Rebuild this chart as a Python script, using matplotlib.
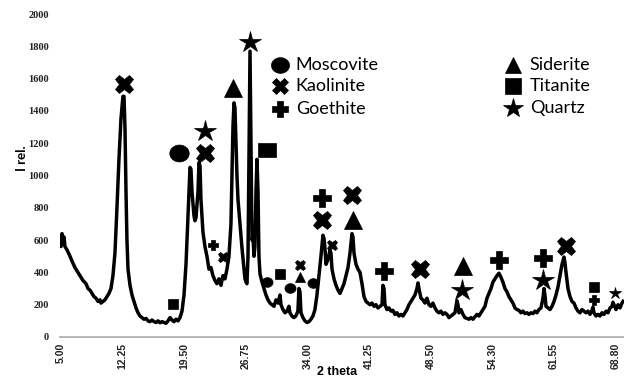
import matplotlib
matplotlib.use("Agg")
import matplotlib.pyplot as plt
import numpy as np

# ---------------- data ----------------
two_theta = [4.89, 5.00, 5.12, 5.23, 5.35, 5.46, 5.69, 6.04, 6.27, 6.61, 6.96, 7.19, 7.53, 7.88, 8.11, 8.34,
             8.57, 8.80, 9.03, 9.26, 9.49, 9.60, 9.83, 10.06, 10.29, 10.52, 10.75, 10.98, 11.21, 11.44, 11.67,
             11.90, 12.13, 12.25, 12.36, 12.48, 12.59, 12.71, 12.94, 13.17, 13.40, 13.63, 13.86, 14.09, 14.32,
             14.55, 14.78, 15.01, 15.24, 15.47, 15.70, 15.93, 16.16, 16.39, 16.62, 16.85, 17.08, 17.31, 17.54,
             17.77, 18.00, 18.23, 18.46, 18.69, 18.92, 19.15, 19.38, 19.61, 19.84, 19.95, 20.07, 20.30, 20.41,
             20.53, 20.76, 20.87, 20.99, 21.10, 21.33, 21.56, 21.79, 22.02, 22.25, 22.48, 22.71, 22.94, 23.17,
             23.40, 23.63, 23.86, 24.09, 24.32, 24.55, 24.67, 24.78, 24.90, 25.01, 25.13, 25.24, 25.36, 25.59,
             25.82, 26.05, 26.16, 26.28, 26.39, 26.51, 26.62, 26.74, 26.85, 26.97, 27.08, 27.20, 27.31, 27.43,
             27.54, 27.66, 27.77, 27.89, 28.12, 28.35, 28.58, 28.81, 29.04, 29.27, 29.50, 29.73, 29.96, 30.19,
             30.30, 30.53, 30.76, 30.99, 31.22, 31.33, 31.56, 31.79, 32.02, 32.25, 32.37, 32.49, 32.60, 32.83,
             33.06, 33.29, 33.52, 33.75, 33.98, 34.21, 34.44, 34.67, 34.90, 35.13, 35.25, 35.36, 35.48, 35.71,
             35.94, 36.05, 36.17, 36.40, 36.63, 36.86, 37.09, 37.32, 37.55, 37.78, 38.01, 38.24, 38.47, 38.58,
             38.70, 38.93, 39.16, 39.39, 39.62, 39.85, 40.08, 40.31, 40.54, 40.77, 41.00, 41.23, 41.46, 41.69,
             41.92, 42.03, 42.15, 42.26, 42.49, 42.72, 42.95, 43.18, 43.41, 43.64, 43.87, 44.10, 44.33, 44.56,
             44.79, 45.02, 45.25, 45.48, 45.71, 45.94, 46.06, 46.17, 46.40, 46.63, 46.86, 47.09, 47.32, 47.55,
             47.78, 48.01, 48.24, 48.47, 48.70, 48.93, 49.16, 49.39, 49.62, 49.85, 50.08, 50.31, 50.54, 50.66,
             50.77, 51.00, 51.23, 51.46, 51.69, 51.92, 52.15, 52.38, 52.61, 52.84, 53.07, 53.30, 53.53, 53.76,
             53.99, 54.22, 54.45, 54.68, 54.91, 55.14, 55.37, 55.60, 55.83, 56.06, 56.29, 56.52, 56.75, 56.98,
             57.21, 57.44, 57.67, 57.90, 58.13, 58.36, 58.59, 58.82, 59.05, 59.28, 59.51, 59.74, 59.97, 60.20,
             60.43, 60.55, 60.66, 60.78, 61.01, 61.24, 61.47, 61.70, 61.93, 62.16, 62.39, 62.62, 62.85, 62.96,
             63.08, 63.31, 63.54, 63.77, 64.00, 64.23, 64.46, 64.69, 64.92, 65.15, 65.38, 65.61, 65.84, 66.07,
             66.18, 66.30, 66.53, 66.76, 66.99, 67.22, 67.45, 67.68, 67.91, 68.14, 68.37, 68.48, 68.60, 68.83,
             69.06, 69.29, 69.52, 69.75]

intensity = [600, 560, 640, 580, 620, 560, 540, 500, 470, 430, 400, 380, 350, 330, 300, 290,
             270, 250, 240, 220, 230, 210, 220, 230, 250, 270, 300, 380, 520, 800, 1100,
             1350, 1490, 1490, 1300, 900, 600, 420, 320, 260, 220, 180, 150, 130, 120,
             110, 115, 100, 95, 105, 95, 90, 100, 88, 95, 90, 85, 100, 120,
             105, 95, 110, 100, 120, 160, 260, 450, 750, 1050, 1040, 900, 750, 720,
             740, 900, 1080, 1060, 850, 650, 560, 500, 420, 430, 380, 350, 330, 360,
             320, 380, 360, 420, 500, 700, 1000, 1300, 1450, 1420, 1200, 1000, 850, 700,
             550, 420, 360, 340, 330, 500, 1100, 1770, 1200, 600, 620, 500, 560, 900,
             1100, 900, 500, 390, 340, 300, 260, 230, 210, 200, 190, 230, 210, 260,
             200, 170, 150, 160, 190, 150, 130, 120, 130, 160, 300, 280, 150, 120,
             100, 90, 95, 110, 130, 170, 260, 380, 500, 630, 610, 550, 450, 480,
             540, 520, 420, 360, 320, 290, 270, 300, 330, 380, 430, 520, 640, 620,
             520, 450, 420, 400, 330, 250, 220, 210, 200, 210, 190, 200, 180, 190,
             200, 320, 300, 200, 170, 180, 160, 165, 140, 150, 130, 140, 130, 150,
             170, 200, 220, 240, 260, 300, 335, 300, 240, 230, 210, 240, 200, 190,
             210, 180, 160, 150, 160, 140, 150, 140, 120, 130, 140, 150, 225, 200,
             150, 170, 140, 120, 115, 110, 120, 110, 125, 140, 130, 150, 170, 190,
             240, 270, 300, 340, 360, 380, 395, 370, 340, 300, 280, 250, 230, 210,
             180, 170, 165, 150, 160, 145, 150, 140, 150, 145, 160, 150, 170, 180,
             240, 300, 260, 190, 180, 170, 190, 220, 260, 310, 380, 450, 495, 460,
             400, 300, 250, 220, 210, 180, 160, 150, 170, 160, 150, 160, 140, 165,
             185, 150, 130, 140, 130, 150, 140, 160, 150, 180, 190, 215, 200, 170,
             200, 180, 210, 230]

tick_labels = ["5.00", "12.25", "19.50", "26.75", "34.00", "41.25", "48.50", "54.30", "61.55", "68.80"]
y_ticks = [0, 200, 400, 600, 800, 1000, 1200, 1400, 1600, 1800, 2000]

# phase annotations: mineral, 2theta, intensity position, big (True) / small (False)
ann_mineral = ["Kaolinite", "Moscovite", "Kaolinite", "Quartz", "Siderite", "Quartz", "Titanite",
               "Goethite", "Kaolinite", "Kaolinite", "Siderite", "Goethite", "Kaolinite", "Siderite",
               "Quartz", "Goethite", "Goethite", "Quartz", "Kaolinite",
               "Goethite", "Kaolinite", "Titanite", "Moscovite", "Titanite", "Moscovite", "Kaolinite",
               "Siderite", "Moscovite", "Kaolinite", "Titanite", "Goethite", "Quartz"]
ann_theta = [12.25, 18.57, 21.56, 21.56, 24.78, 26.74, 28.69,
             35.01, 35.01, 38.47, 38.58, 42.15, 46.29, 51.23,
             51.12, 55.37, 60.43, 60.43, 63.08,
             22.48, 23.63, 17.88, 28.69, 30.19, 31.33, 32.49,
             32.49, 33.98, 36.17, 66.30, 66.30, 68.71]
ann_value = [1566, 1139, 1139, 1275, 1541, 1826, 1158,
             860, 724, 879, 724, 409, 421, 439,
             291, 477, 489, 353, 563,
             569, 495, 204, 340, 390, 303, 446,
             371, 334, 569, 310, 229, 272]
ann_big = [True] * 19 + [False] * 13

legend_left = ["Moscovite", "Kaolinite", "Goethite"]
legend_right = ["Siderite", "Titanite", "Quartz"]

# ---------------- styles ----------------
rect = [(-1.35, -1.0), (1.35, -1.0), (1.35, 1.0), (-1.35, 1.0), (-1.35, -1.0)]
_a = np.linspace(0, 2 * np.pi, 40)
ellipse = list(zip(1.15 * np.cos(_a), np.sin(_a)))
h = 0.32
chunky_plus = [(-h, -1), (h, -1), (h, -h), (1, -h), (1, h), (h, h), (h, 1), (-h, 1),
               (-h, h), (-1, h), (-1, -h), (-h, -h), (-h, -1)]
marker_of = {"Moscovite": ellipse, "Kaolinite": "X", "Goethite": chunky_plus,
             "Siderite": "^", "Titanite": "s", "Quartz": "*"}
big_size = {"Moscovite": 14, "Kaolinite": 13, "Goethite": 13,
            "Siderite": 13, "Titanite": 13, "Quartz": 16}
small_size = {"Moscovite": 8, "Kaolinite": 7.5, "Goethite": 7.5,
              "Siderite": 7.5, "Titanite": 7.5, "Quartz": 9}

fig = plt.figure(figsize=(6.24, 3.82), dpi=100)
ax = fig.add_axes([60 / 624, 45 / 382, 564 / 624, 323 / 382])

ax.plot(two_theta, intensity, color="black", lw=2.5, solid_joinstyle="round",
        solid_capstyle="butt", zorder=3)

for m, t, v, b in zip(ann_mineral, ann_theta, ann_value, ann_big):
    mk = marker_of[m]
    if m == "Titanite" and b:
        mk = rect
    ms = big_size[m] if b else small_size[m]
    ax.plot([t], [v], marker=mk, ms=ms, color="black", mec="black", mew=0.5, ls="none", zorder=4)

ax.set_xlim(4.89, 69.75)
ax.set_ylim(0, 2000)
tick_pos = [5 + i * (68.8 - 5) / 9 for i in range(len(tick_labels))]
ax.set_xticks(tick_pos)
ax.set_xticklabels(tick_labels, rotation=90, fontsize=7.5, fontweight="bold",
                   family="Liberation Sans", color="#222222")
ax.set_yticks(y_ticks)
ax.set_yticklabels([str(v) for v in y_ticks], fontsize=7.5, fontweight="bold",
                   family="Liberation Serif", color="#222222")
ax.tick_params(axis="both", length=0)
ax.tick_params(axis="y", pad=8)
ax.tick_params(axis="x", pad=4)
for s in ["top", "right", "left"]:
    ax.spines[s].set_visible(False)
ax.spines["bottom"].set_color("#aaaaaa")
ax.spines["bottom"].set_linewidth(1.2)

# legend (drawn as symbols + text inside axes)
lx_m, lx_t = 0.390, 0.418
rx_m, rx_t = 0.803, 0.833
for name, y in zip(legend_left, [0.842, 0.777, 0.706]):
    ax.plot([lx_m], [y], marker=marker_of[name], ms=big_size[name] - 1, color="black", mew=0.5,
            transform=ax.transAxes, ls="none", clip_on=False)
    ax.text(lx_t, y, name, transform=ax.transAxes, fontsize=13, family="Lato",
            va="center", ha="left")
for name, y in zip(legend_right, [0.842, 0.777, 0.709]):
    ax.plot([rx_m], [y], marker=marker_of[name], ms=big_size[name] - 1, color="black", mew=0.5,
            transform=ax.transAxes, ls="none", clip_on=False)
    ax.text(rx_t, y, name, transform=ax.transAxes, fontsize=13, family="Lato",
            va="center", ha="left")

fig.text(22 / 624, 1 - 158 / 382, "I rel.", rotation=90, fontsize=9.5, fontweight="bold",
         family="Lato", ha="center", va="center")
fig.text(337 / 624, 1 - 372 / 382, "2 theta", fontsize=9, fontweight="bold",
         family="Liberation Sans", ha="center", va="center")

fig.savefig("out.png", dpi=100)
